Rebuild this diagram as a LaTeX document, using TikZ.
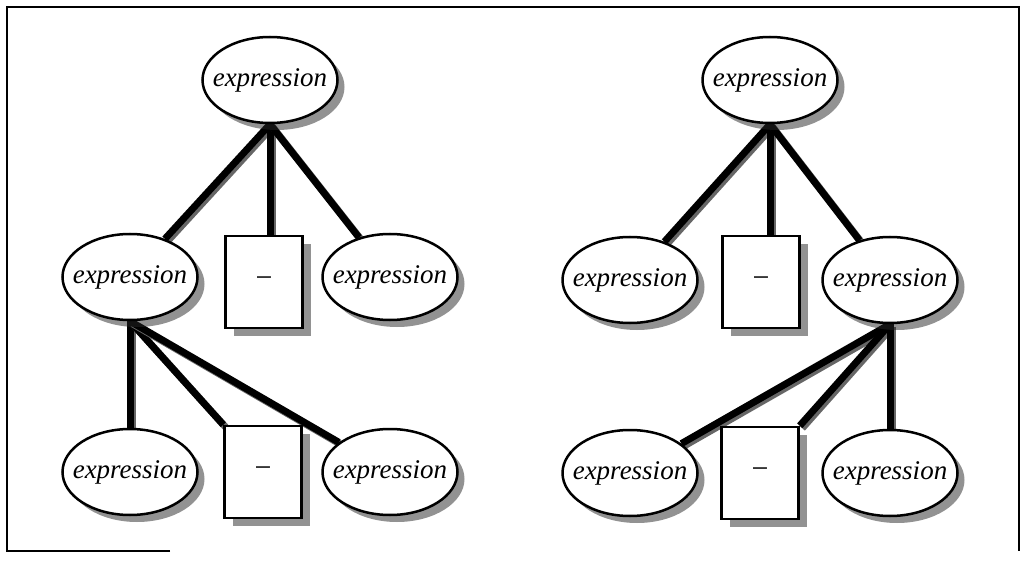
\documentclass[tikz,border=0pt]{standalone}
\usepackage{fontspec}
\setmainfont{Liberation Serif}
\usetikzlibrary{shapes.geometric, shadows, backgrounds}

\begin{document}
\begin{tikzpicture}[x=1pt, y=-1pt,
    expr/.style={ellipse, draw, line width=2.5pt, fill=white, inner xsep=-20pt, inner ysep=0pt,
        minimum width=135pt, minimum height=86pt, font=\fontsize{27}{30}\selectfont\itshape,
        drop shadow={shadow xshift=7pt, shadow yshift=-7pt, fill=black!85}},
    op/.style={rectangle, draw, line width=2.5pt, fill=white, minimum width=77pt, minimum height=92pt,
        font=\fontsize{30}{32}\selectfont,
        drop shadow={shadow xshift=8pt, shadow yshift=-8pt, fill=black!85}},
    link/.style={line width=7pt,
        preaction={draw, black!60, line width=7pt, transform canvas={shift={(2.5,2.5)}}}}]
  \useasboundingbox (0,0) rectangle (1025,561);
  \draw[line width=1.5pt] (170,551) -- (7,551) -- (7,7) -- (1019,7) -- (1019,551);

  % left tree
  \node[expr] (lroot) at (270,80) {expression};
  \node[expr] (lsub) at (130,277) {expression};
  \node[op] (lminus) at (264,282) {−};
  \node[expr] (lright) at (390,277) {expression};
  \node[expr] (lsubleft) at (130,472) {expression};
  \node[op] (lsubminus) at (263,472) {−};
  \node[expr] (lsubright) at (390,472) {expression};

  % right tree
  \node[expr] (rroot) at (770,80) {expression};
  \node[expr] (rleft) at (630,280) {expression};
  \node[op] (rminus) at (761,282) {−};
  \node[expr] (rsub) at (890,280) {expression};
  \node[expr] (rsubleft) at (630,473) {expression};
  \node[op] (rsubminus) at (760,473) {−};
  \node[expr] (rsubright) at (890,473) {expression};

  \begin{scope}[on background layer]
    \draw[link] (lroot.south) -- (lsub);
    \draw[link] (lroot.south) -- (lroot.south |- lminus.north);
    \draw[link] (lroot.south) -- (lright);
    \draw[link] (lsub.south) -- (lsubleft.north);
    \draw[link] (lsub.south) -- (lsubminus.north west);
    \draw[link] (lsub.south) -- (lsubright);

    \draw[link] (rroot.south) -- (rleft);
    \draw[link] (rroot.south) -- (rroot.south |- rminus.north);
    \draw[link] (rroot.south) -- (rsub);
    \draw[link] (rsub.south) -- (rsubleft);
    \draw[link] (rsub.south) -- (rsubminus.north east);
    \draw[link] (rsub.south) -- (rsubright.north);
  \end{scope}
\end{tikzpicture}
\end{document}
